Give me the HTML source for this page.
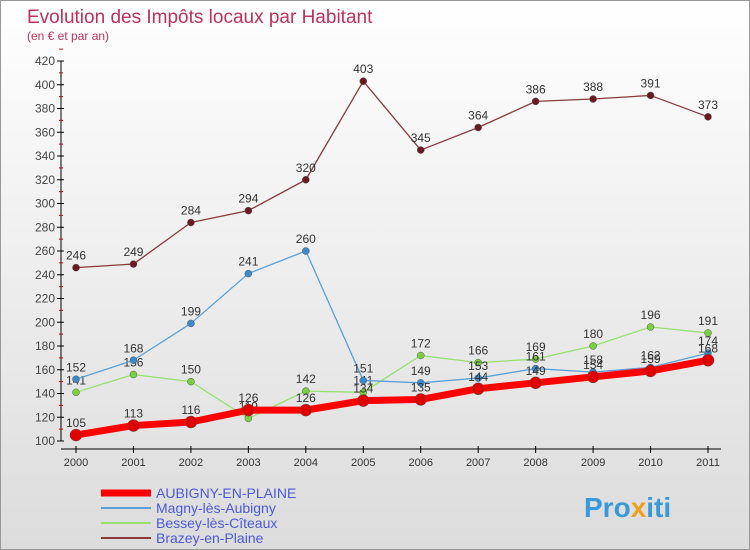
<!DOCTYPE html>
<html><head><meta charset="utf-8"><style>
body{margin:0}
#c{width:750px;height:550px;position:relative;font-family:"Liberation Sans",sans-serif;background:linear-gradient(#fff,#dcdcdc);border:1px solid #999;box-sizing:border-box;overflow:hidden}
</style></head><body>
<div id="c">
<svg id="s" width="750" height="550" style="position:absolute;left:0;top:0">
<text x="26" y="22" font-size="19" fill="#c0305a">Evolution des Impôts locaux par Habitant</text>
<text x="26" y="39" font-size="12" fill="#c0305a">(en € et par an)</text>
<text x="583" y="516" font-size="28" font-weight="bold" fill="#3a9ad9">Pro<tspan fill="#f0a020">x</tspan><tspan fill="#3a9ad9">iti</tspan></text>
</svg>
</div>
<script>
const years=[2000,2001,2002,2003,2004,2005,2006,2007,2008,2009,2010,2011];
const yTicks=[100,120,140,160,180,200,220,240,260,280,300,320,340,360,380,400,420];
const aubigny=[105,113,116,126,126,134,135,144,149,154,159,168];
const magny=[152,168,199,241,260,151,149,153,161,158,162,174];
const bessey=[141,156,150,119,142,141,172,166,169,180,196,191];
const brazey=[246,249,284,294,320,403,345,364,386,388,391,373];
const series=[
 {name:'AUBIGNY-EN-PLAINE',vals:aubigny,color:'#ff0000',w:7,r:6,dot:'#e00000',id:'aubigny'},
 {name:'Magny-lès-Aubigny',vals:magny,color:'#5aa0d8',w:1.3,r:3.5,dot:'#3a8ad0',id:'magny'},
 {name:'Bessey-lès-Cîteaux',vals:bessey,color:'#99e070',w:1.3,r:3.5,dot:'#7ad040',id:'bessey'},
 {name:'Brazey-en-Plaine',vals:brazey,color:'#8a3a3a',w:1.3,r:3.5,dot:'#6a1a20',id:'brazey'}];
const NS='http://www.w3.org/2000/svg';
const s=document.getElementById('s');
const X=i=>75+i*(707-75)/11;
const Y=v=>440-(v-100)*380/320;
function el(t,a,p){const e=document.createElementNS(NS,t);for(const k in a)e.setAttribute(k,a[k]);(p||s).appendChild(e);return e;}
const ax=el('line',{x1:60,y1:60,x2:60,y2:440,stroke:'#000'});


const xa=el('line',{x1:60,y1:448,x2:720,y2:448,stroke:'#000'});


yTicks.forEach(v=>{
 el('line',{x1:56,y1:Y(v),x2:63,y2:Y(v),stroke:'#000'});
 el('line',{x1:58,y1:Y(v+10),x2:62,y2:Y(v+10),stroke:'#d00'});
 const t=el('text',{x:54,y:Y(v)+4,'font-size':12,fill:'#444','text-anchor':'end'});t.textContent=v;
 
 
});
years.forEach((y,i)=>{
 el('line',{x1:X(i),y1:445,x2:X(i),y2:452,stroke:'#000'});
 const t=el('text',{x:X(i),y:465,'font-size':11,fill:'#333','text-anchor':'middle'});t.textContent=y;
 
 
});
[...series].reverse().forEach(se=>{
 const g=el('g',{});
 
 
 el('polyline',{points:se.vals.map((v,i)=>X(i)+','+Y(v)).join(' '),fill:'none',stroke:se.color,'stroke-width':se.w,'stroke-linejoin':'round'},g);
 se.vals.forEach((v,i)=>{
  const c=el('circle',{cx:X(i),cy:Y(v),r:se.r,fill:se.dot,stroke:'#555','stroke-width':0.5},g);
  
  
  const t=el('text',{x:X(i),y:Y(v)-8,'font-size':12,fill:'#333','text-anchor':'middle'},g);t.textContent=v;
  
  
 });
});
series.forEach((se,i)=>{
 const y=492+i*15;
 const g=el('g',{});
 
 
 el('line',{x1:100,y1:y,x2:150,y2:y,stroke:se.color,'stroke-width':i==0?7:2},g);
 const t=el('text',{x:155,y:y+5,'font-size':14,fill:'#4a5ad8'},g);t.textContent=se.name;
});
</script>
</body></html>
